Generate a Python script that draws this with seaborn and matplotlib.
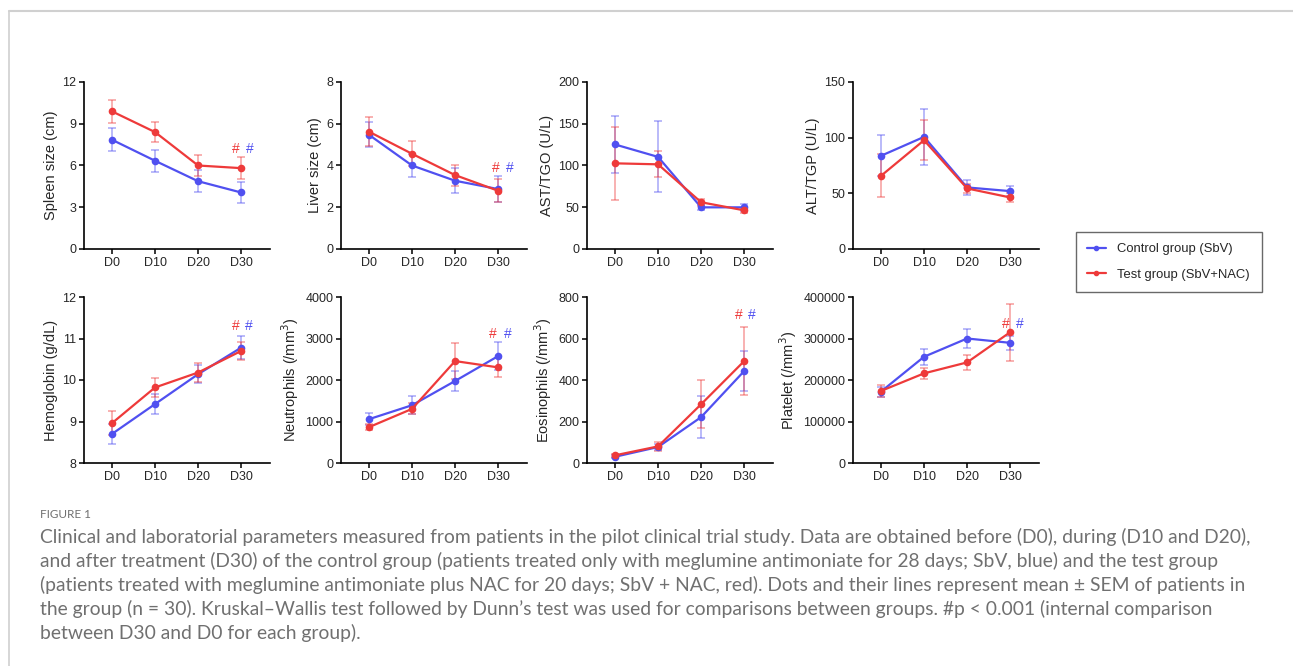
import numpy as np
import pandas as pd
import seaborn as sns
import matplotlib.pyplot as plt
from matplotlib.lines import Line2D

# ---------------------------------------------------------
# Data (means and SEM)
# ---------------------------------------------------------
days = ['D0', 'D10', 'D20', 'D30']
groups = ['Control group (SbV)', 'Test group (SbV+NAC)']

spleen_ctrl = [7.85, 6.34, 4.87, 4.06]
spleen_ctrl_err = [0.83, 0.80, 0.80, 0.72]
spleen_test = [9.89, 8.40, 6.00, 5.81]
spleen_test_err = [0.85, 0.73, 0.72, 0.77]

liver_ctrl = [5.47, 4.00, 3.27, 2.87]
liver_ctrl_err = [0.60, 0.57, 0.60, 0.62]
liver_test = [5.62, 4.56, 3.54, 2.79]
liver_test_err = [0.69, 0.60, 0.50, 0.55]

ast_ctrl = [125.2, 110.3, 49.9, 49.9]
ast_ctrl_err = [34.0, 42.5, 3.0, 4.0]
ast_test = [102.6, 101.4, 56.0, 46.3]
ast_test_err = [44.0, 15.5, 4.0, 3.0]

alt_ctrl = [83.7, 100.7, 55.3, 52.0]
alt_ctrl_err = [18.5, 25.4, 7.0, 4.8]
alt_test = [65.7, 97.7, 54.4, 46.3]
alt_test_err = [19.4, 18.0, 3.8, 3.9]

hb_ctrl = [8.70, 9.42, 10.14, 10.78]
hb_ctrl_err = [0.24, 0.25, 0.22, 0.28]
hb_test = [8.96, 9.82, 10.18, 10.70]
hb_test_err = [0.29, 0.22, 0.22, 0.21]

neut_ctrl = [1056, 1392, 1976, 2576]
neut_ctrl_err = [140, 220, 240, 328]
neut_test = [864, 1304, 2456, 2304]
neut_test_err = [80, 132, 424, 228]

eos_ctrl = [30, 77, 221, 443]
eos_ctrl_err = [8, 15, 100, 98]
eos_test = [37, 80, 283, 491]
eos_test_err = [8, 20, 115, 163]

plt_ctrl = [172000, 256000, 300000, 289600]
plt_ctrl_err = [12000, 19000, 24000, 17000]
plt_test = [173600, 216000, 242400, 315200]
plt_test_err = [14000, 12400, 17600, 69000]

# panel: label, ylim, ticks, ctrl, ctrl_err, test, test_err, hash marker (y, x_red, x_blue) or None
panels = [
    ('Spleen size (cm)', (0, 12), [0, 3, 6, 9, 12], spleen_ctrl, spleen_ctrl_err, spleen_test, spleen_test_err, (7.2, 2.88, 3.19)),
    ('Liver size (cm)', (0, 8), [0, 2, 4, 6, 8], liver_ctrl, liver_ctrl_err, liver_test, liver_test_err, (3.87, 2.95, 3.27)),
    ('AST/TGO (U/L)', (0, 200), [0, 50, 100, 150, 200], ast_ctrl, ast_ctrl_err, ast_test, ast_test_err, None),
    ('ALT/TGP (U/L)', (0, 150), [0, 50, 100, 150], alt_ctrl, alt_ctrl_err, alt_test, alt_test_err, None),
    ('Hemoglobin (g/dL)', (8, 12), [8, 9, 10, 11, 12], hb_ctrl, hb_ctrl_err, hb_test, hb_test_err, (11.3, 2.87, 3.18)),
    ('Neutrophils (/mm$^3$)', (0, 4000), [0, 1000, 2000, 3000, 4000], neut_ctrl, neut_ctrl_err, neut_test, neut_test_err, (3104, 2.88, 3.22)),
    ('Eosinophils (/mm$^3$)', (0, 800), [0, 200, 400, 600, 800], eos_ctrl, eos_ctrl_err, eos_test, eos_test_err, (715, 2.87, 3.18)),
    ('Platelet (/mm$^3$)', (0, 400000), [0, 100000, 200000, 300000, 400000], plt_ctrl, plt_ctrl_err, plt_test, plt_test_err, (336000, 2.91, 3.22)),
]

blue = '#5050F0'
red = '#EE3A3A'
palette = {groups[0]: blue, groups[1]: red}

# =========================================================
# Figure
# =========================================================
sns.set_theme(style='ticks')
plt.rcParams['font.family'] = ['Liberation Sans', 'DejaVu Sans']
plt.rcParams['axes.linewidth'] = 1.2

W, H = 1293, 666
fig = plt.figure(figsize=(W / 100, H / 100), dpi=100)

col_px = [84, 341, 587, 853]
row_px = [(82, 249), (297, 463)]
ax_w = 186

for i, (label, ylim, yticks, c, ce, t, te, hmark) in enumerate(panels):
    r, k = divmod(i, 4)
    top, bot = row_px[r]
    ax = fig.add_axes([col_px[k] / W, 1 - bot / H, ax_w / W, (bot - top) / H])

    df = pd.DataFrame({
        'day': list(range(4)) * 2,
        'value': c + t,
        'group': [groups[0]] * 4 + [groups[1]] * 4,
    })
    # error bars first, so the lines sit on top
    ax.errorbar(range(4), c, yerr=ce, fmt='none', ecolor=blue, alpha=0.5,
                elinewidth=1.1, capsize=3, capthick=1.1, zorder=1)
    ax.errorbar(range(4), t, yerr=te, fmt='none', ecolor=red, alpha=0.5,
                elinewidth=1.1, capsize=3, capthick=1.1, zorder=1)
    sns.lineplot(data=df, x='day', y='value', hue='group', palette=palette,
                 marker='o', markersize=5.5, markeredgewidth=0, linewidth=1.6,
                 legend=False, ax=ax, zorder=3)

    ax.set_xlim(-0.65, 3.67)
    ax.set_ylim(*ylim)
    ax.set_yticks(yticks)
    ax.set_yticklabels([str(v) for v in yticks])
    ax.set_xticks(range(4))
    ax.set_xticklabels(days)
    ax.set_xlabel('')
    ax.set_ylabel(label, fontsize=10.5, labelpad=3)
    ax.tick_params(axis='both', labelsize=9, length=3.5, width=1.1, pad=2, color='black')
    sns.despine(ax=ax)
    for s in ['left', 'bottom']:
        ax.spines[s].set_color('black')

    if hmark is not None:
        hy, hx_r, hx_b = hmark
        ax.text(hx_r, hy, '#', color=red, fontsize=10, ha='center', va='center')
        ax.text(hx_b, hy, '#', color=blue, fontsize=10, ha='center', va='center')

# legend
handles = [Line2D([], [], color=blue, marker='o', markersize=3, linewidth=1.6),
           Line2D([], [], color=red, marker='o', markersize=3, linewidth=1.6)]
leg = fig.legend(handles, groups, loc='upper left',
                 bbox_to_anchor=(1069 / W, 1 - 225 / H), fontsize=9.4,
                 frameon=True, fancybox=False, handlelength=1.4,
                 borderpad=0.9, labelspacing=1.0, handletextpad=0.9)
leg.get_frame().set_edgecolor('#444444')
leg.get_frame().set_linewidth(1.0)

# page frame lines
fig.add_artist(Line2D([9 / W, 1], [1 - 11 / H, 1 - 11 / H], color='#d0d0d0', linewidth=1.5))
fig.add_artist(Line2D([9 / W, 9 / W], [0, 1 - 11 / H], color='#d0d0d0', linewidth=1.2))

# caption
cap_font = ['Lato', 'DejaVu Sans']
fig.text(40 / W, 1 - 515 / H, 'FIGURE 1', fontsize=8.5, color='#707070',
         family=cap_font, va='center', ha='left')
caption = [
    'Clinical and laboratorial parameters measured from patients in the pilot clinical trial study. Data are obtained before (D0), during (D10 and D20),',
    'and after treatment (D30) of the control group (patients treated only with meglumine antimoniate for 28 days; SbV, blue) and the test group',
    '(patients treated with meglumine antimoniate plus NAC for 20 days; SbV + NAC, red). Dots and their lines represent mean \u00b1 SEM of patients in',
    'the group (n = 30). Kruskal\u2013Wallis test followed by Dunn\u2019s test was used for comparisons between groups. #p < 0.001 (internal comparison',
    'between D30 and D0 for each group).',
]
for j, line in enumerate(caption):
    fig.text(40 / W, 1 - (537 + 24 * j) / H, line, fontsize=13.9, color='#707070',
             family=cap_font, va='center', ha='left')

plt.savefig('out.png', dpi=100)
